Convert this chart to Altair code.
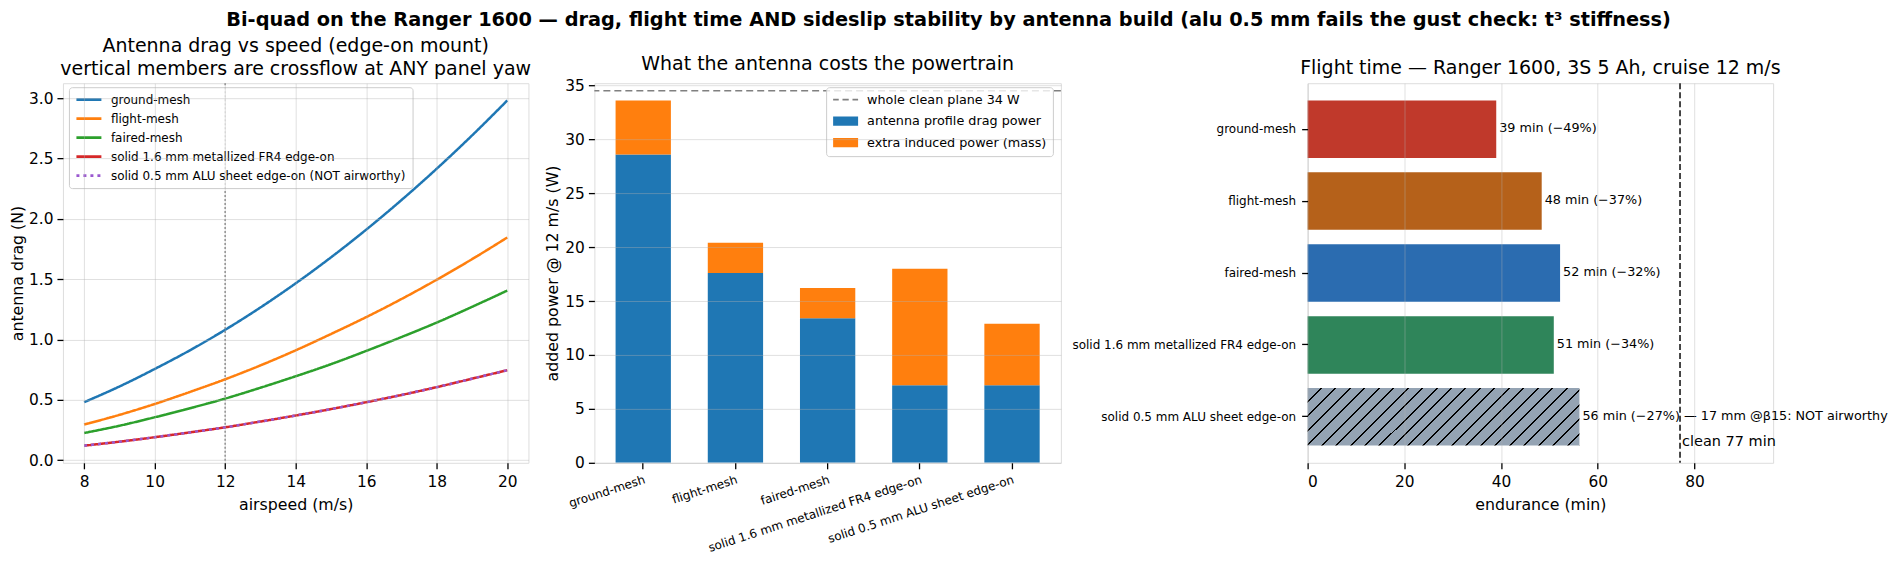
import altair as alt
import pandas as pd

# ---------- data ----------
speeds = [8, 9, 10, 11, 12, 13, 14, 15, 16, 17, 18, 19, 20]
drag_ground = [0.48, 0.61, 0.755, 0.91, 1.08, 1.265, 1.465, 1.68, 1.91, 2.155, 2.415, 2.69, 2.98]
drag_flight = [0.295, 0.375, 0.465, 0.565, 0.67, 0.785, 0.91, 1.045, 1.185, 1.335, 1.495, 1.665, 1.845]
drag_faired = [0.225, 0.285, 0.355, 0.43, 0.51, 0.60, 0.695, 0.795, 0.905, 1.02, 1.14, 1.27, 1.405]
drag_fr4 = [0.12, 0.153, 0.19, 0.23, 0.272, 0.32, 0.37, 0.423, 0.48, 0.54, 0.605, 0.675, 0.745]
drag_alu = [0.12, 0.153, 0.19, 0.23, 0.272, 0.32, 0.37, 0.423, 0.48, 0.54, 0.605, 0.675, 0.745]

builds = ["ground-mesh", "flight-mesh", "faired-mesh",
          "solid 1.6 mm metallized FR4 edge-on", "solid 0.5 mm ALU sheet edge-on"]
line_names = builds[:4] + ["solid 0.5 mm ALU sheet edge-on (NOT airworthy)"]
line_colors = ["#1f77b4", "#ff7f0e", "#2ca02c", "#d62728", "#9b59d0"]

profile_power = [28.6, 17.6, 13.4, 7.2, 7.2]
induced_power = [5.0, 2.8, 2.8, 10.8, 5.7]
clean_power = 34.5
power_names = ["whole clean plane 34 W", "antenna profile drag power", "extra induced power (mass)"]
power_colors = ["#808080", "#1f77b4", "#ff7f0e"]

endurance = [39.0, 48.4, 52.2, 50.9, 56.2]
endurance_labels = ["39 min (\u221249%)", "48 min (\u221237%)", "52 min (\u221232%)", "51 min (\u221234%)",
                    "56 min (\u221227%) \u2014 17 mm @\u03b215: NOT airworthy"]
endurance_colors = ["#c0392b", "#b5611a", "#2b6cb0", "#2f855a", "#94a3b3"]
clean_endurance = 77.0

# ---------- style ----------
FONT = "DejaVu Sans"
TICK = 15.4
LABEL = 15.8
TITLE = 19
SMALL = 12
H = 380
W1, W2, W3 = 466, 467, 466


def axis(**kw):
    base = dict(labelFont=FONT, titleFont=FONT, labelFontSize=TICK, titleFontSize=LABEL, titleFontWeight="normal",
                labelColor="#000", titleColor="#000", tickColor="#000", tickSize=6, tickWidth=1.3, domain=False,
                grid=False, gridColor="#b0b0b0", gridOpacity=0.4, gridWidth=1, labelPadding=4, zindex=1)
    base.update(kw)
    return alt.Axis(**base)


def frame(**kw):
    base = dict(title=None, orient="none", fillColor="rgba(255,255,255,0.8)", strokeColor="#cccccc", cornerRadius=3,
                labelFont=FONT, labelFontSize=SMALL, labelColor="#000", labelOffset=8,
                symbolSize=625, labelLimit=400, clipHeight=13)
    base.update(kw)
    return alt.Legend(**base)


def panel_title(text, **kw):
    return alt.TitleParams(text, font=FONT, fontSize=TITLE, fontWeight="normal", color="#000", anchor="middle",
                           offset=4, **kw)


# ---------- panel 1 ----------
df1 = pd.concat([pd.DataFrame({"v": speeds, "d": vals, "series": name, "rank": i})
                 for i, (vals, name) in enumerate(zip([drag_ground, drag_flight, drag_faired, drag_fr4, drag_alu], line_names))])
x1 = alt.X("v:Q", scale=alt.Scale(domain=[7.4, 20.6], nice=False, zero=False),
           axis=axis(title="airspeed (m/s)", values=[8, 10, 12, 14, 16, 18, 20], grid=True, labelPadding=6, titlePadding=7))
y1 = alt.Y("d:Q", scale=alt.Scale(domain=[-0.022, 3.123], nice=False),
           axis=axis(title="antenna drag (N)", values=[0, 0.5, 1, 1.5, 2, 2.5, 3], format=".1f", grid=True, titlePadding=3.5))
lines = alt.Chart(df1).mark_line(strokeWidth=2.5, interpolate="monotone", clip=True).encode(
    x=x1, y=y1,
    color=alt.Color("series:N", sort=line_names, scale=alt.Scale(domain=line_names, range=line_colors),
                    legend=frame(legendX=6, legendY=4, padding=6, symbolType="M-1,0H1", symbolStrokeWidth=2.8, rowPadding=6)),
    strokeDash=alt.StrokeDash("series:N", sort=line_names,
                              scale=alt.Scale(domain=line_names, range=[[1, 0], [1, 0], [1, 0], [1, 0], [3, 4]]),
                              legend=None),
    order=alt.Order("rank:Q"),
)
vline = alt.Chart(pd.DataFrame({"v": [12]})).mark_rule(color="#808080", strokeDash=[2, 2], strokeWidth=1.4).encode(x="v:Q")
p1 = alt.layer(vline, lines).properties(
    width=W1, height=H,
    title=panel_title(["Antenna drag vs speed (edge-on mount)", "vertical members are crossflow at ANY panel yaw"],
                      lineHeight=23))

# ---------- panel 2 ----------
df2 = pd.DataFrame({
    "build": builds * 2,
    "w": profile_power + induced_power,
    "series": [power_names[1]] * 5 + [power_names[2]] * 5,
    "o": [0] * 5 + [1] * 5,
})
x2 = alt.X("build:N", sort=builds, scale=alt.Scale(paddingInner=0.4, paddingOuter=0.23),
           axis=axis(title=None, labelAngle=-18, labelAlign="right", labelBaseline="top", labelFontSize=SMALL, labelLimit=400,
                     labelPadding=5))
sym_dash = "M-1,-0.07H-0.55V0.07H-1ZM-0.25,-0.07H0.25V0.07H-0.25ZM0.55,-0.07H1V0.07H0.55Z"
sym_rect = "M-1,-0.37H1V0.37H-1Z"
color2 = alt.Scale(domain=power_names, range=power_colors)
legend_p2 = frame(legendX=232, legendY=4, padding=6, symbolOpacity=1, rowPadding=7.5, labelFontSize=12.8)
bars2 = alt.Chart(df2).mark_bar(clip=True).encode(
    x=x2,
    y=alt.Y("sum(w):Q", stack="zero", scale=alt.Scale(domain=[0, 35.2], nice=False),
            axis=axis(title="added power @ 12 m/s (W)", values=[0, 5, 10, 15, 20, 25, 30, 35], grid=True, titlePadding=4)),
    color=alt.Color("series:N", scale=color2, legend=legend_p2),
    order=alt.Order("o:Q"),
)
rule2 = alt.Chart(pd.DataFrame({"w": [clean_power]})).mark_rule(color="#808080", strokeDash=[7, 4], strokeWidth=1.6).encode(y="w:Q")
legend2 = alt.Chart(pd.DataFrame({"series": power_names, "w": [clean_power] * 3})).transform_filter("false").mark_point(
    filled=True).encode(
    y="w:Q",
    color=alt.Color("series:N", scale=color2, legend=legend_p2),
    shape=alt.Shape("series:N", scale=alt.Scale(domain=power_names, range=[sym_dash, sym_rect, sym_rect]), legend=legend_p2),
)
p2 = alt.layer(bars2, rule2, legend2).properties(
    width=W2, height=H, title=panel_title("What the antenna costs the powertrain"))

# ---------- panel 3 ----------
df3 = pd.DataFrame({"build": builds, "e": endurance, "label": endurance_labels, "c": endurance_colors})
xs3 = alt.Scale(domain=[0, 96.25], nice=False)
ys3 = alt.Scale(domain=builds, paddingInner=0.2, paddingOuter=0.24)
x3 = alt.X("e:Q", scale=xs3, axis=axis(title="endurance (min)", values=[0, 20, 40, 60, 80], grid=True, labelPadding=6, titlePadding=7))
y3 = alt.Y("build:N", sort=builds, scale=ys3, axis=axis(title=None, labelFontSize=SMALL, labelLimit=400, labelPadding=6))
bars3 = alt.Chart(df3).transform_filter(alt.datum.build != builds[4]).mark_bar().encode(
    x=x3, y=y3, color=alt.Color("c:N", scale=None))

# hatch of the last bar: a gradient with hard stops (45 degree lines)
bw, bh = 56.2 * W3 / 96.25, 57.6
k = (bw + bh) / (bw ** 2 + bh ** 2)
period, ink = 14.5 / (bw + bh), 2.0 / (bw + bh)
stops, t = [], 0.0
while t < 1.0:
    a, b = t + period - ink, t + period
    for off, col in [(t, "#94a3b3"), (min(a, 1), "#94a3b3"), (min(a, 1), "#000000"), (min(b, 1), "#000000")]:
        stops.append(alt.GradientStop(color=col, offset=round(off, 5)))
    t = b
hatch = alt.LinearGradient(gradient="linear", x1=0, y1=0, x2=bw * k, y2=bh * k, stops=stops)
bar_alu = alt.Chart(df3).transform_filter(alt.datum.build == builds[4]).mark_bar(fill=hatch).encode(x=x3, y=y3)

labels3 = alt.Chart(df3).mark_text(align="left", baseline="middle", dx=3, dy=-1, font=FONT, fontSize=12.8, color="#000").encode(
    x=x3, y=y3, text="label:N")
rule3 = alt.Chart(pd.DataFrame({"e": [clean_endurance]})).mark_rule(color="#333333", strokeDash=[6, 3], strokeWidth=1.8).encode(x=alt.X("e:Q", scale=xs3))
clean3 = alt.Chart(pd.DataFrame({"e": [clean_endurance], "t": ["clean 77 min"]})).mark_text(
    align="left", baseline="middle", dx=2, font=FONT, fontSize=14.5, color="#000").encode(
    x=alt.X("e:Q", scale=xs3), y=alt.value(359), text="t:N")
p3 = alt.layer(bars3, bar_alu, rule3, labels3, clean3).properties(
    width=W3, height=H, title=panel_title("Flight time \u2014 Ranger 1600, 3S 5 Ah, cruise 12 m/s"))

spacer = alt.Chart(pd.DataFrame({"a": [0]})).mark_point(opacity=0).properties(width=115, height=H, view=alt.ViewConfig(stroke=None))
chart = alt.hconcat(p1, p2, spacer, p3, spacing=66, bounds="flush").resolve_scale(
    color="independent", shape="independent", strokeDash="independent").properties(
    title=alt.TitleParams("Bi-quad on the Ranger 1600 \u2014 drag, flight time AND sideslip stability by antenna build (alu 0.5 mm fails the gust check: t\u00b3 stiffness)",
                          font=FONT, fontSize=19.35, fontWeight="bold", color="#000", anchor="middle", offset=6),
    padding={"left": 0, "right": 0, "top": 2, "bottom": 0},
).configure_view(stroke="#000", strokeWidth=1.3).configure(background="white")

chart.save("out.html", embed_options={"renderer": "svg", "actions": False})
